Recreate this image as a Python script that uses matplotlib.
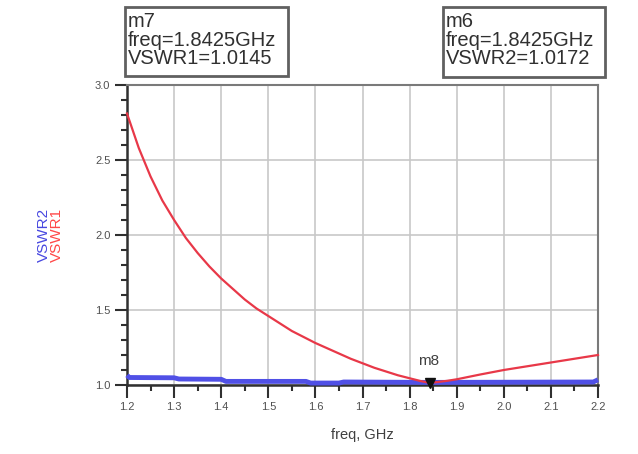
import matplotlib
matplotlib.use("Agg")
import matplotlib.pyplot as plt
from matplotlib.ticker import MultipleLocator
from matplotlib.patches import Rectangle

plt.rcParams['font.family'] = ['Liberation Sans', 'DejaVu Sans']

# ---- data ----
freq1 = [1.20, 1.225, 1.25, 1.275, 1.30, 1.325, 1.35, 1.375, 1.40, 1.425, 1.45,
         1.475, 1.50, 1.525, 1.55, 1.575, 1.60, 1.625, 1.65, 1.675, 1.70,
         1.725, 1.75, 1.775, 1.80, 1.825, 1.8425, 1.86, 1.88, 1.90, 1.95,
         2.00, 2.05, 2.10, 2.15, 2.20]
vswr1 = [2.81, 2.58, 2.39, 2.23, 2.10, 1.98, 1.88, 1.79, 1.71, 1.64, 1.57,
         1.51, 1.46, 1.41, 1.36, 1.32, 1.28, 1.245, 1.21, 1.175, 1.145,
         1.115, 1.09, 1.065, 1.045, 1.025, 1.0145, 1.02, 1.028, 1.038, 1.07,
         1.10, 1.125, 1.15, 1.175, 1.20]

freq2 = [1.20, 1.205, 1.30, 1.31, 1.40, 1.41, 1.58, 1.59, 1.65, 1.66, 1.8425,
         2.19, 2.20]
vswr2 = [1.065, 1.05, 1.048, 1.04, 1.038, 1.024, 1.024, 1.013, 1.013, 1.02,
         1.0172, 1.02, 1.035]

m_freq = 1.8425
m8_val = 1.0145
m7_text = "m7\nfreq=1.8425GHz\nVSWR1=1.0145"
m6_text = "m6\nfreq=1.8425GHz\nVSWR2=1.0172"

xticks = [1.2, 1.3, 1.4, 1.5, 1.6, 1.7, 1.8, 1.9, 2.0, 2.1, 2.2]
yticks = [1.0, 1.5, 2.0, 2.5, 3.0]

W, H = 638, 454
fig = plt.figure(figsize=(W / 100, H / 100), dpi=100)
fig.patch.set_facecolor('white')

def fx(px):
    return px / W

def fy(py):
    return 1 - py / H

ax = fig.add_axes([fx(127), fy(385), fx(598) - fx(127), fy(85) - fy(385)])
ax.set_xlim(1.2, 2.2)
ax.set_ylim(1.0, 3.0)
ax.set_xticks(xticks)
ax.set_yticks(yticks)
ax.set_xticklabels([f"{v:.1f}" for v in xticks])
ax.set_yticklabels([f"{v:.1f}" for v in yticks])
ax.xaxis.set_minor_locator(MultipleLocator(0.05))
ax.yaxis.set_minor_locator(MultipleLocator(0.1))
ax.grid(True, which='major', color='#c8c8c8', lw=1.2)
ax.set_axisbelow(True)

ax.tick_params(which='major', direction='out', length=9, width=1.5,
               color='#303030', labelsize=8, labelcolor='#505050', pad=3)
ax.tick_params(which='minor', direction='out', length=4, width=1.5,
               color='#303030')
for s in ['left', 'bottom']:
    ax.spines[s].set_linewidth(1.8)
    ax.spines[s].set_color('#303030')
for s in ['top', 'right']:
    ax.spines[s].set_linewidth(1.5)
    ax.spines[s].set_color('#7a7a7a')

ax.plot(freq2, vswr2, color='#5050e6', lw=3.5, solid_capstyle='butt',
        clip_on=False, zorder=3)
ax.plot(freq1, vswr1, color='#e83848', lw=1.6, clip_on=False, zorder=4)

# marker m8
ax.plot([m_freq], [m8_val], marker='v', color='#101010', markersize=7,
        zorder=5, clip_on=False)
ax.annotate("m8", (m_freq, m8_val), xytext=(-1, 11), textcoords='offset points',
            ha='center', va='bottom', fontsize=11, color='#404040', zorder=6)

ax.set_xlabel("freq, GHz", fontsize=10.5, color='#404040', labelpad=12)

# y-axis legend labels
fig.text(fx(44), fy(235), "VSWR2", rotation=90, color='#4848e0', fontsize=11,
         ha='center', va='center')
fig.text(fx(57), fy(235), "VSWR1", rotation=90, color='#ff4848', fontsize=11,
         ha='center', va='center')

# marker readout boxes
for txt, (x0, y0, x1, y1) in [(m7_text, (125, 7, 288, 76)),
                              (m6_text, (443, 7, 605, 77))]:
    fig.patches.append(Rectangle((fx(x0), fy(y1)), fx(x1) - fx(x0),
                                 fy(y0) - fy(y1), transform=fig.transFigure,
                                 fc='white', ec='#606060', lw=2))
    fig.text(fx(x0 + 3), fy(y0 + 5), txt, fontsize=14.5, color='#303030',
             ha='left', va='top', linespacing=0.98)

fig.savefig("out.png", dpi=100)
